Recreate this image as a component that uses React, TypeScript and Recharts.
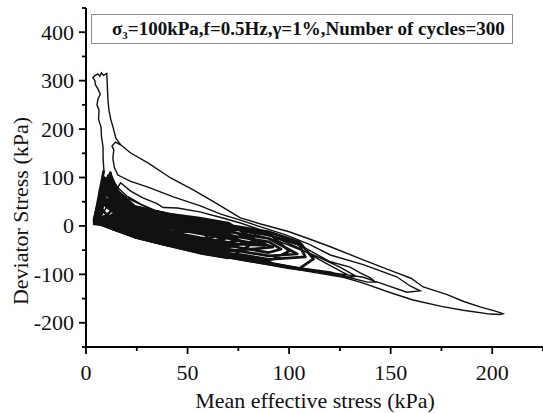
import { Line, LineChart, XAxis, YAxis } from "recharts";

type Pt = { p: number; q: number };

const xTicks = [0, 25, 50, 75, 100, 125, 150, 175, 200, 225];
const xLabels = [0, 50, 100, 150, 200];
const yTicks = [-250, -200, -150, -100, -50, 0, 50, 100, 150, 200, 250, 300, 350, 400, 450];
const yLabels = [-200, -100, 0, 100, 200, 300, 400];

// last cycle: the spike up to ~315 kPa
const finalSpike: Pt[] = [
  { p: 8.8, q: 115 }, { p: 8.4, q: 140 }, { p: 8.4, q: 163 }, { p: 7.6, q: 185 },
  { p: 7.4, q: 204 }, { p: 6.2, q: 220 }, { p: 6.4, q: 239 }, { p: 5.4, q: 250 },
  { p: 5.9, q: 262 }, { p: 7.0, q: 272 }, { p: 6.0, q: 282 }, { p: 4.6, q: 292 },
  { p: 4.4, q: 300 }, { p: 3.4, q: 306 }, { p: 4.2, q: 310 }, { p: 5.8, q: 314 },
  { p: 6.8, q: 309 }, { p: 7.6, q: 316 }, { p: 8.6, q: 311 }, { p: 10.2, q: 315 },
  { p: 10.4, q: 300 }, { p: 10.6, q: 280 }, { p: 10.8, q: 260 }, { p: 11.3, q: 239 },
  { p: 12.2, q: 220 }, { p: 13.3, q: 204 }, { p: 14.7, q: 181 }, { p: 17.2, q: 167 },
];

// widest loop, out to p ~ 205 kPa
const firstCycle: Pt[] = [
  { p: 17.2, q: 167 }, { p: 22, q: 150.5 }, { p: 30.5, q: 130 }, { p: 41.7, q: 99 },
  { p: 53, q: 74 }, { p: 64, q: 47 }, { p: 76, q: 16.5 }, { p: 86, q: 4 },
  { p: 100, q: -12 }, { p: 110, q: -27 }, { p: 120.3, q: -43 }, { p: 136.5, q: -70 },
  { p: 153, q: -97 }, { p: 160, q: -108 }, { p: 166, q: -126 }, { p: 177.8, q: -142 },
  { p: 186, q: -156 }, { p: 194, q: -167 }, { p: 202.4, q: -177 }, { p: 205.3, q: -181.4 },
  { p: 204, q: -183 }, { p: 199, q: -182 }, { p: 185.7, q: -174 }, { p: 175, q: -166 },
  { p: 161, q: -153 }, { p: 150, q: -138 }, { p: 136.5, q: -118 }, { p: 126.7, q: -106 },
  { p: 115, q: -98 }, { p: 105.6, q: -91 }, { p: 93, q: -82 }, { p: 81, q: -74 },
  { p: 68, q: -65 }, { p: 56.5, q: -57 }, { p: 40, q: -41 }, { p: 23.6, q: -23 },
  { p: 12, q: -6 }, { p: 5, q: 12 },
];

const earlyCycles: Pt[] = [
  { p: 17.2, q: 167 }, { p: 14.5, q: 173 }, { p: 12.8, q: 165 }, { p: 13.7, q: 157 },
  { p: 13.2, q: 140 }, { p: 14, q: 120 }, { p: 15.7, q: 105 }, { p: 22, q: 92 },
  { p: 30.5, q: 80 }, { p: 43, q: 60 }, { p: 56, q: 42 }, { p: 66, q: 25 },
  { p: 76, q: 12 }, { p: 86, q: -2 }, { p: 98, q: -18 }, { p: 110, q: -38 },
  { p: 120.3, q: -60 }, { p: 136.5, q: -80 }, { p: 153, q: -105 }, { p: 159.6, q: -124 },
  { p: 164.5, q: -134 }, { p: 158, q: -137 }, { p: 145, q: -118 }, { p: 136.5, q: -106 },
  { p: 125, q: -99 }, { p: 110, q: -90 }, { p: 95, q: -80 }, { p: 75, q: -66 },
  { p: 55, q: -50 }, { p: 35, q: -32 }, { p: 18, q: -12 }, { p: 6, q: 10 },
  { p: 17, q: 89 }, { p: 22, q: 72 }, { p: 28, q: 58 }, { p: 35, q: 46 },
  { p: 38, q: 38 }, { p: 45, q: 37 }, { p: 56, q: 29 }, { p: 66, q: 18 },
  { p: 76, q: 6 }, { p: 86, q: -8 }, { p: 96, q: -22 }, { p: 108, q: -46 },
  { p: 120.3, q: -74 }, { p: 130, q: -85 }, { p: 135, q: -97 }, { p: 140, q: -107 },
  { p: 142.4, q: -115.5 }, { p: 138.5, q: -116 }, { p: 130, q: -107 }, { p: 120.3, q: -95 },
  { p: 105, q: -86 }, { p: 90, q: -76 }, { p: 70, q: -62 }, { p: 50, q: -46 },
  { p: 30, q: -28 }, { p: 12, q: -4 }, { p: 5, q: 8 },
  { p: 12, q: 98 }, { p: 16, q: 78 }, { p: 20, q: 62 }, { p: 27, q: 45 },
  { p: 34, q: 32 }, { p: 45, q: 22 }, { p: 56, q: 14 }, { p: 68, q: 4 },
  { p: 80, q: -6 }, { p: 92, q: -22 }, { p: 104, q: -44 }, { p: 116, q: -72 },
  { p: 126, q: -95 }, { p: 129, q: -101 }, { p: 124, q: -100 }, { p: 112, q: -93 },
  { p: 98, q: -84 }, { p: 80, q: -71 }, { p: 60, q: -55 }, { p: 40, q: -38 },
  { p: 20, q: -16 }, { p: 7, q: 6 },
  { p: 10, q: 90 }, { p: 20, q: 58 }, { p: 35, q: 28 }, { p: 56, q: 8 },
  { p: 75, q: -8 }, { p: 95, q: -32 }, { p: 112, q: -60 }, { p: 125, q: -85 },
  { p: 133, q: -104 }, { p: 128, q: -106 }, { p: 115, q: -96 }, { p: 100, q: -88 },
  { p: 80, q: -73 }, { p: 58, q: -56 }, { p: 35, q: -35 }, { p: 15, q: -10 },
  { p: 6, q: 4 },
];

// the dense band of later cycles
const laterCyclesA: Pt[] = [
  { p: 9, q: 96 }, { p: 16, q: 66 }, { p: 24, q: 37 }, { p: 40, q: 22 }, { p: 56, q: 12 }, { p: 70, q: 2 },
  { p: 90, q: -12 }, { p: 105, q: -33 }, { p: 112, q: -68 }, { p: 105, q: -88 }, { p: 90, q: -76 },
  { p: 70, q: -62 }, { p: 56, q: -52 }, { p: 40, q: -37 }, { p: 24, q: -20 }, { p: 16, q: -4 }, { p: 5, q: 12 },
  { p: 11, q: 104 }, { p: 16, q: 58 }, { p: 24, q: 31 }, { p: 40, q: 15 }, { p: 56, q: 5 }, { p: 70, q: -5 },
  { p: 90, q: -19 }, { p: 105, q: -39 }, { p: 108, q: -64 }, { p: 90, q: -69 }, { p: 70, q: -55 },
  { p: 56, q: -45 }, { p: 40, q: -30 }, { p: 24, q: -14 }, { p: 16, q: 4 }, { p: 6, q: 10 },
  { p: 8, q: 86 }, { p: 16, q: 50 }, { p: 24, q: 24 }, { p: 40, q: 9 }, { p: 56, q: -2 }, { p: 70, q: -12 },
  { p: 90, q: -26 }, { p: 104, q: -58 }, { p: 90, q: -62 }, { p: 70, q: -48 }, { p: 56, q: -38 },
  { p: 40, q: -24 }, { p: 24, q: -7 }, { p: 16, q: 11 }, { p: 4, q: 8 },
  { p: 10, q: 92 }, { p: 16, q: 62 }, { p: 24, q: 34 }, { p: 40, q: 18 }, { p: 56, q: 9 }, { p: 70, q: -1 },
  { p: 90, q: -15 }, { p: 100, q: -52 }, { p: 90, q: -73 }, { p: 70, q: -59 }, { p: 56, q: -49 },
  { p: 40, q: -34 }, { p: 24, q: -17 }, { p: 16, q: 0 }, { p: 6, q: 14 },
  { p: 7, q: 76 }, { p: 16, q: 43 }, { p: 24, q: 18 }, { p: 40, q: 2 }, { p: 56, q: -9 }, { p: 70, q: -19 },
  { p: 90, q: -33 }, { p: 96, q: -48 }, { p: 90, q: -55 }, { p: 70, q: -41 }, { p: 56, q: -31 },
  { p: 40, q: -17 }, { p: 24, q: -1 }, { p: 16, q: 19 }, { p: 5, q: 6 },
  { p: 12, q: 108 }, { p: 16, q: 54 }, { p: 24, q: 27 }, { p: 40, q: 12 }, { p: 56, q: 2 }, { p: 70, q: -8 },
  { p: 92, q: -44 }, { p: 70, q: -52 }, { p: 56, q: -42 }, { p: 40, q: -27 }, { p: 24, q: -10 },
  { p: 16, q: 8 }, { p: 4, q: 12 },
  { p: 9, q: 88 }, { p: 16, q: 35 }, { p: 24, q: 12 }, { p: 40, q: -4 }, { p: 56, q: -16 }, { p: 70, q: -26 },
  { p: 88, q: -40 }, { p: 70, q: -37 }, { p: 56, q: -27 }, { p: 40, q: -14 }, { p: 24, q: 2 },
  { p: 16, q: 23 }, { p: 6, q: 4 },
  { p: 11, q: 96 }, { p: 16, q: 70 }, { p: 24, q: 40 }, { p: 40, q: 25 }, { p: 56, q: 16 }, { p: 70, q: 6 },
  { p: 84, q: -30 }, { p: 70, q: -44 }, { p: 56, q: -34 }, { p: 40, q: -20 }, { p: 24, q: -4 },
  { p: 16, q: 15 }, { p: 5, q: 10 },
  { p: 10, q: 98 }, { p: 16, q: 47 }, { p: 24, q: 21 }, { p: 40, q: 6 }, { p: 56, q: -6 }, { p: 70, q: -16 },
  { p: 80, q: -42 }, { p: 70, q: -66 }, { p: 56, q: -56 }, { p: 40, q: -40 }, { p: 24, q: -23 },
  { p: 12, q: -4 }, { p: 4, q: 14 },
  { p: 7, q: 64 }, { p: 16, q: 39 }, { p: 24, q: 15 }, { p: 40, q: -1 }, { p: 56, q: -13 }, { p: 70, q: -23 },
  { p: 76, q: -30 }, { p: 70, q: -34 }, { p: 56, q: -24 }, { p: 40, q: -11 }, { p: 24, q: 5 },
  { p: 16, q: 27 }, { p: 6, q: 2 },
];

const laterCyclesB: Pt[] = [
  { p: 6, q: 2 },
  { p: 11, q: 90 }, { p: 16, q: 66 }, { p: 24, q: 37 }, { p: 40, q: 22 }, { p: 56, q: 12 },
  { p: 72, q: -20 }, { p: 56, q: -45 }, { p: 40, q: -30 }, { p: 24, q: -14 }, { p: 16, q: 4 }, { p: 5, q: 12 },
  { p: 8, q: 80 }, { p: 16, q: 50 }, { p: 24, q: 24 }, { p: 40, q: 9 }, { p: 56, q: -2 },
  { p: 68, q: -32 }, { p: 56, q: -52 }, { p: 40, q: -37 }, { p: 24, q: -20 }, { p: 12, q: -2 }, { p: 4, q: 6 },
  { p: 9, q: 72 }, { p: 16, q: 58 }, { p: 24, q: 31 }, { p: 40, q: 15 }, { p: 56, q: 5 },
  { p: 64, q: -20 }, { p: 56, q: -34 }, { p: 40, q: -20 }, { p: 24, q: -4 }, { p: 16, q: 15 }, { p: 6, q: 10 },
  { p: 10, q: 86 }, { p: 16, q: 43 }, { p: 24, q: 18 }, { p: 40, q: 2 }, { p: 56, q: -9 },
  { p: 60, q: -24 }, { p: 56, q: -49 }, { p: 40, q: -34 }, { p: 24, q: -17 }, { p: 16, q: 0 }, { p: 5, q: 4 },
  { p: 9, q: 100 }, { p: 16, q: 62 }, { p: 24, q: 34 }, { p: 40, q: 18 },
  { p: 56, q: -10 }, { p: 40, q: -14 }, { p: 24, q: 2 }, { p: 16, q: 23 }, { p: 4, q: 12 },
  { p: 11, q: 100 }, { p: 16, q: 31 }, { p: 24, q: 9 }, { p: 40, q: -8 },
  { p: 52, q: -30 }, { p: 40, q: -40 }, { p: 24, q: -23 }, { p: 12, q: -3 }, { p: 6, q: 6 },
  { p: 8, q: 68 }, { p: 16, q: 54 }, { p: 24, q: 27 }, { p: 40, q: 12 },
  { p: 48, q: -10 }, { p: 40, q: -27 }, { p: 24, q: -10 }, { p: 16, q: 8 }, { p: 5, q: 10 },
  { p: 12, q: 106 }, { p: 16, q: 70 }, { p: 24, q: 40 }, { p: 40, q: 25 },
  { p: 44, q: -5 }, { p: 40, q: -34 }, { p: 24, q: -17 }, { p: 16, q: 0 }, { p: 4, q: 4 },
  { p: 7, q: 56 }, { p: 16, q: 39 }, { p: 24, q: 15 },
  { p: 40, q: -10 }, { p: 24, q: -4 }, { p: 16, q: 15 }, { p: 6, q: 12 },
  { p: 10, q: 94 }, { p: 16, q: 62 }, { p: 24, q: 34 },
  { p: 36, q: 0 }, { p: 24, q: -23 }, { p: 12, q: -4 }, { p: 5, q: 6 },
  { p: 8, q: 66 }, { p: 11, q: 46 }, { p: 16, q: 30 },
  { p: 32, q: 10 }, { p: 20, q: 2 }, { p: 11, q: 4 }, { p: 4, q: 10 },
  { p: 9, q: 78 }, { p: 12, q: 54 }, { p: 16, q: 36 },
  { p: 28, q: 14 }, { p: 17, q: 6 }, { p: 10, q: 6 }, { p: 6, q: 8 },
  { p: 7, q: 52 }, { p: 10, q: 40 }, { p: 14, q: 28 },
  { p: 24, q: 16 }, { p: 14, q: 8 }, { p: 5, q: 12 },
  { p: 11, q: 102 }, { p: 13, q: 74 }, { p: 15, q: 50 },
  { p: 20, q: 24 }, { p: 12, q: 12 }, { p: 4, q: 6 },
  { p: 8, q: 62 }, { p: 10, q: 48 }, { p: 12, q: 36 },
  { p: 17, q: 20 }, { p: 10, q: 10 }, { p: 6, q: 10 },
  { p: 10, q: 88 }, { p: 12, q: 64 }, { p: 13, q: 44 },
  { p: 15, q: 28 }, { p: 9, q: 14 }, { p: 5, q: 8 },
  { p: 12, q: 110 }, { p: 13, q: 86 }, { p: 14, q: 64 },
  { p: 15, q: 40 }, { p: 10, q: 22 }, { p: 6, q: 14 },
  { p: 6, q: 46 }, { p: 8, q: 34 }, { p: 10, q: 24 },
  { p: 12, q: 16 }, { p: 7, q: 8 }, { p: 4, q: 10 }, { p: 8.8, q: 115 },
];

const thinSeries = [finalSpike, firstCycle, earlyCycles];
const denseSeries = [laterCyclesA, laterCyclesB];

const FONT = "'Liberation Serif', 'Times New Roman', serif";

function XTick(props: any) {
  const { x, y, payload } = props;
  const major = xLabels.includes(payload.value);
  return (
    <g>
      <line x1={x} x2={x} y1={y} y2={y + (major ? 7 : 4)} stroke="#000" strokeWidth={1.8} />
      {major ? (
        <text x={x} y={y + 33} textAnchor="middle" fontSize={22} fontFamily={FONT} fill="#111">
          {payload.value}
        </text>
      ) : null}
    </g>
  );
}

function YTick(props: any) {
  const { x, y, payload } = props;
  const major = yLabels.includes(payload.value);
  return (
    <g>
      <line x1={x} x2={x - (major ? 7 : 4)} y1={y} y2={y} stroke="#000" strokeWidth={1.8} />
      {major ? (
        <text x={x - 12} y={y + 7.5} textAnchor="end" fontSize={22} fontFamily={FONT} fill="#111">
          {payload.value}
        </text>
      ) : null}
    </g>
  );
}

export default function App() {
  return (
    <div
      style={{
        position: "absolute",
        left: 0,
        top: 0,
        width: 543,
        height: 413,
        overflow: "hidden",
        background: "#fff",
      }}
    >
      <LineChart width={543} height={413} margin={{ top: 8, right: 0, bottom: 0, left: 0 }}>
        <XAxis
          dataKey="p"
          type="number"
          domain={[0, 225]}
          ticks={xTicks}
          interval={0}
          height={66}
          tickSize={0}
          tickMargin={0}
          tickLine={false}
          tick={<XTick />}
          axisLine={{ stroke: "#000", strokeWidth: 2 }}
          allowDataOverflow
        />
        <XAxis
          xAxisId="top"
          orientation="top"
          type="number"
          domain={[0, 225]}
          height={0}
          tick={false}
          tickLine={false}
          axisLine={{ stroke: "#000", strokeWidth: 2 }}
        />
        <YAxis
          type="number"
          domain={[-250, 450]}
          ticks={yTicks}
          interval={0}
          width={86}
          tickSize={0}
          tickMargin={0}
          tickLine={false}
          tick={<YTick />}
          axisLine={{ stroke: "#000", strokeWidth: 2 }}
          allowDataOverflow
        />
        <YAxis
          yAxisId="right"
          orientation="right"
          type="number"
          domain={[-250, 450]}
          width={0}
          tick={false}
          tickLine={false}
          axisLine={{ stroke: "#000", strokeWidth: 2 }}
        />
        {denseSeries.map((data, i) => (
          <Line
            key={`dense-${i}`}
            data={data}
            dataKey="q"
            stroke="#111"
            strokeWidth={2.7}
            strokeLinejoin="round"
            dot={false}
            activeDot={false}
            isAnimationActive={false}
          />
        ))}
        {thinSeries.map((data, i) => (
          <Line
            key={`path-${i}`}
            data={data}
            dataKey="q"
            stroke="#111"
            strokeWidth={1.4}
            dot={false}
            activeDot={false}
            isAnimationActive={false}
          />
        ))}
      </LineChart>
      <svg
        width={543}
        height={413}
        style={{ position: "absolute", left: 0, top: 0, pointerEvents: "none" }}
      >
        <text
          transform="translate(28, 211) rotate(-90)"
          textAnchor="middle"
          fontSize={22}
          fontFamily={FONT}
          fill="#111"
        >
          Deviator Stress (kPa)
        </text>
        <text x={315} y={408} textAnchor="middle" fontSize={22} fontFamily={FONT} fill="#111">
          Mean effective stress (kPa)
        </text>
      </svg>
      <div
        style={{
          position: "absolute",
          left: 91,
          top: 14,
          width: 422,
          height: 30,
          border: "1px solid #8c8c8c",
          boxSizing: "border-box",
          fontFamily: FONT,
          fontWeight: "bold",
          fontSize: 19,
          lineHeight: "28px",
          paddingLeft: 20,
          whiteSpace: "nowrap",
          color: "#111",
        }}
      >
        σ<sub style={{ fontSize: 11, verticalAlign: "-4px" }}>3</sub>=100kPa,f=0.5Hz,γ=1%,Number of cycles=300
      </div>
    </div>
  );
}
